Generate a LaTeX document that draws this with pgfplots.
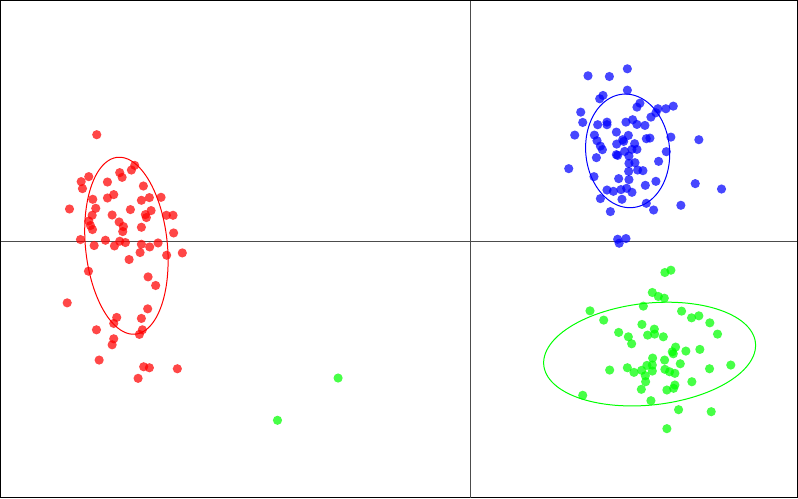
\documentclass[border=0pt]{standalone}
\usepackage{pgfplots}
\pgfplotsset{compat=1.18}
\usepackage{pgfplotstable}
\pgfplotstableread{
px py
96.3 134.3
134.3 165
119.3 172.3
131 169.7
121.7 177
88.3 176.3
80.7 181.3
107 181.7
82 188.3
143 185.7
113.3 194.3
107 197.7
92.3 199
141 200
149 197.3
160.7 197
69 208.7
95.3 208
130 209.3
150.7 210.3
145 214.3
146 217.3
166 215
172.7 215
91.7 215
111.7 214.7
88.3 220.7
118.7 221.7
90 225.3
92 229.3
123 226.3
122.3 231.3
141 227
173.3 232.7
80 239.3
105 240
119.3 241
125 242.3
93.7 245.3
114 245.7
141 244
149.3 246.7
157.7 242.7
166.3 255
182 252.7
139.7 252.3
128.7 259.3
88 271
147.7 276.7
155.3 285.3
66.7 302.7
147.3 308.7
116.3 317.3
141 318.3
113.3 323.3
96 329.7
142 329.7
139 334.3
113.3 338.7
111.7 344.7
98.7 360
143.3 366.7
149 367.7
177 368.7
137.7 378.3
}\redtab
\pgfplotstableread{
px py
627.7 68.3
588.3 75.3
609.7 76
627.7 89.7
603.3 95
600 98.3
637.3 106.7
640.3 102.7
658.3 108.3
666.3 108.3
673.7 105.7
656.3 112.3
651.3 116.7
581 111.7
583 122
598 124.3
607.3 121.7
607.3 124.3
626.3 121.7
633 119.3
637.3 124
645.3 125
575 134.7
594.7 134.7
616.7 131.7
628.7 135
623 139.3
646.7 138.3
650.3 137.7
671.3 136.7
699.3 139.3
597.3 140.3
600.7 145.7
602.7 149.3
617 143.7
624 141
635 143.3
632.3 149
637.3 149
625 151
616.7 154.3
618 155
629.3 155.7
666.7 151.3
596.7 157.3
569 168.3
659 161
629.3 163
635.3 162.3
629 171
638 169.7
643.3 170.3
594.3 176.3
619 178.3
629.3 179.3
656.3 181
695.7 183.3
722 188.7
645.7 185
607.3 189.7
613.7 191
621.3 189.3
627 188
632.3 192
600.7 198.3
622.3 199
646.7 203
681.3 205
654 209.7
610.7 211.3
618 239
626.3 238.3
619.5 243
}\bluetab
\pgfplotstableread{
px py
665.3 272.3
671.3 270
652.7 292.3
658.7 296.3
664.7 298
590.3 310.7
643.7 306
682 311
692 317.7
699.3 315.7
710.3 322.7
604 320
642.3 324.3
654.7 329
619 332.3
628.7 336.7
648 335
655 334
663.7 336.7
718 334
632 343.7
676 347
672.7 351.7
673.7 353.7
686.3 351
700.3 349.3
653 358
665 360
680.7 363.7
731.3 365
610 370
627.7 367.7
634.3 372.3
647.3 365.3
652.7 365
642 370.3
652.7 371
665.3 369.3
670 371.7
675.3 373.3
710 368.7
645.7 375.7
646 381.7
692.3 381.7
675.3 385
674 388.3
667.3 390
641.7 389.3
583 395.3
651.3 400.7
679 409.7
711.7 411.7
667.3 428.7
338 378
277.3 420.3
}\greentab
\begin{document}
\begin{tikzpicture}
\begin{axis}[
  scale only axis,
  width=399pt, height=249pt,
  xmin=0, xmax=798, ymin=0, ymax=498,
  y dir=reverse,
  ticks=none,
  axis line style={black, line width=0.6pt},
  clip=true,
]
\addplot[black!70, line width=0.55pt] coordinates {(471,0) (471,498)};
\addplot[black!70, line width=0.55pt] coordinates {(0,241) (798,241)};
% confidence ellipses (centre, semi-axes, rotation in pixel space)
\addplot[red, line width=0.5pt, domain=0:360, samples=120, variable=\t]
  ({126 + 89*cos(\t)*cos(84.2) - 41*sin(\t)*sin(84.2)},
   {245.5 + 89*cos(\t)*sin(84.2) + 41*sin(\t)*cos(84.2)});
\addplot[blue, line width=0.5pt, domain=0:360, samples=120, variable=\t]
  ({628 + 57*cos(\t)*cos(85) - 42*sin(\t)*sin(85)},
   {150.5 + 57*cos(\t)*sin(85) + 42*sin(\t)*cos(85)});
\addplot[green, line width=0.5pt, domain=0:360, samples=120, variable=\t]
  ({650 + 106.6*cos(\t)*cos(-6.1) - 51*sin(\t)*sin(-6.1)},
   {354 + 106.6*cos(\t)*sin(-6.1) + 51*sin(\t)*cos(-6.1)});
\addplot[red, only marks, mark=*, mark size=2.3pt, mark options={draw opacity=0, fill=red, fill opacity=0.72}] table[x=px, y=py] {\redtab};
\addplot[blue, only marks, mark=*, mark size=2.3pt, mark options={draw opacity=0, fill=blue, fill opacity=0.72}] table[x=px, y=py] {\bluetab};
\addplot[green, only marks, mark=*, mark size=2.3pt, mark options={draw opacity=0, fill=green, fill opacity=0.72}] table[x=px, y=py] {\greentab};
\end{axis}
\end{tikzpicture}
\end{document}
